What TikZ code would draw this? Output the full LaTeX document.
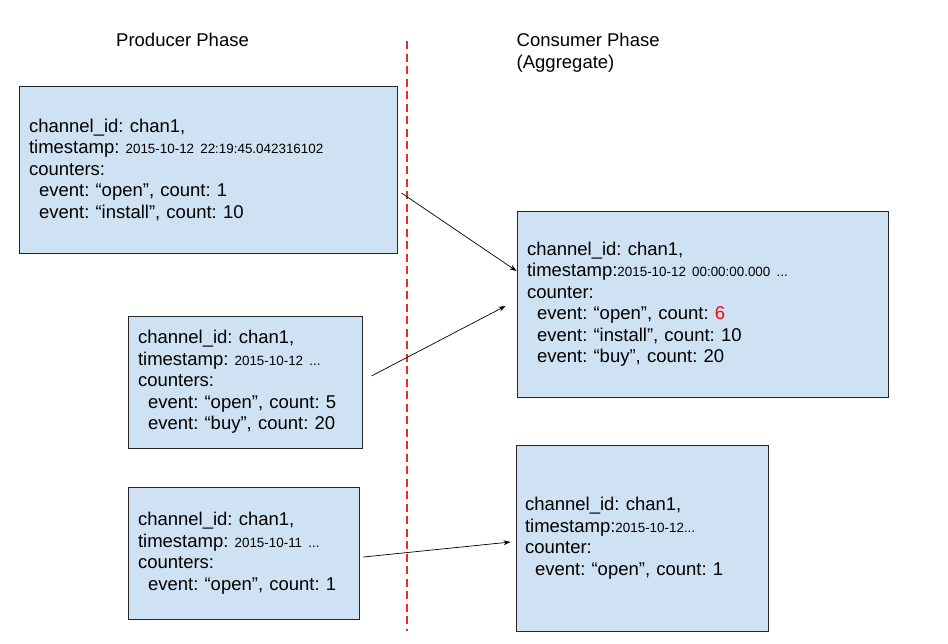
\documentclass[tikz,border=0pt]{standalone}
\usepackage{fontspec}
\setmainfont{Liberation Sans}
\usepackage{xcolor}
\usepackage{tikz}
\usetikzlibrary{positioning,calc,arrows.meta}
\definecolor{BoxBlue}{HTML}{CFE2F3}
\definecolor{LineRed}{RGB}{240,40,40}
\newcommand{\stamp}[1]{{\fontsize{13.4}{16}\selectfont #1}}
\newcommand{\ind}{\hspace*{10pt}}
\frenchspacing

\begin{document}
\begin{tikzpicture}[
                x=1pt, y=1pt,
                font=\fontsize{18.5}{21.5}\selectfont,
                recbox/.style={
                    draw=black!85,
                    fill=BoxBlue,
                    line width=0.9pt,
                    inner xsep=10pt,
                    inner ysep=0pt,
                    align=left
                },
                phase/.style={inner sep=0pt, anchor=base west, align=left},
                divider/.style={color=LineRed, line width=1.1pt, dash pattern=on 8pt off 4.5pt},
                flow/.style={draw=black, line width=0.7pt, -{Stealth[length=7pt,width=5pt]}}
            ]
                \useasboundingbox (0,0) rectangle (948,-643);

                \node[phase] (prod) at (116,-46.7) {Producer Phase};
                \node[phase] (cons) at (516.5,-68.3) {Consumer Phase\\(Aggregate)};

                \coordinate (top) at (407,-41);
                \coordinate (bot) at (407,-631);
                \draw[divider] (top) -- (bot);

                \node[recbox, text width=358pt, minimum height=167pt] (A) at (208,-169.5) {
                    channel\_id: chan1,\\
                    timestamp: \stamp{2015-10-12 22:19:45.042316102}\\
                    counters:\\
                    \ind event: “open”, count: 1\\
                    \ind event: “install”, count: 10};
                \node[recbox, text width=214pt, minimum height=132pt] (B) at (245,-382) {
                    channel\_id: chan1,\\
                    timestamp: \stamp{2015-10-12 ...}\\
                    counters:\\
                    \ind event: “open”, count: 5\\
                    \ind event: “buy”, count: 20};
                \node[recbox, text width=211pt, minimum height=132pt] (D) at (243.5,-553) {
                    channel\_id: chan1,\\
                    timestamp: \stamp{2015-10-11 ...}\\
                    counters:\\
                    \ind event: “open”, count: 1};
                \node[recbox, text width=351pt, minimum height=186pt] (C) at (702.5,-304) {
                    channel\_id: chan1,\\
                    timestamp:\stamp{2015-10-12 00:00:00.000 ...}\\
                    counter:\\
                    \ind event: “open”, count: \textcolor{red}{6}\\
                    \ind event: “install”, count: 10\\
                    \ind event: “buy”, count: 20};
                \node[recbox, text width=234pt, minimum height=186pt, inner xsep=9pt] (E) at (642,-538) {
                    channel\_id: chan1,\\
                    timestamp:\stamp{2015-10-12...}\\
                    counter:\\
                    \ind event: “open”, count: 1};

                \draw[flow] ([xshift=4pt,yshift=-23.5pt]A.east) -- ([yshift=33pt]C.west);
                \draw[flow] ([xshift=9pt,yshift=6pt]B.east) -- ([xshift=-11pt,yshift=-2pt]C.west);
                \draw[flow] ([xshift=4pt,yshift=-4pt]D.east) -- ([xshift=-5pt,yshift=-4pt]E.west);
            \end{tikzpicture}
\end{document}
